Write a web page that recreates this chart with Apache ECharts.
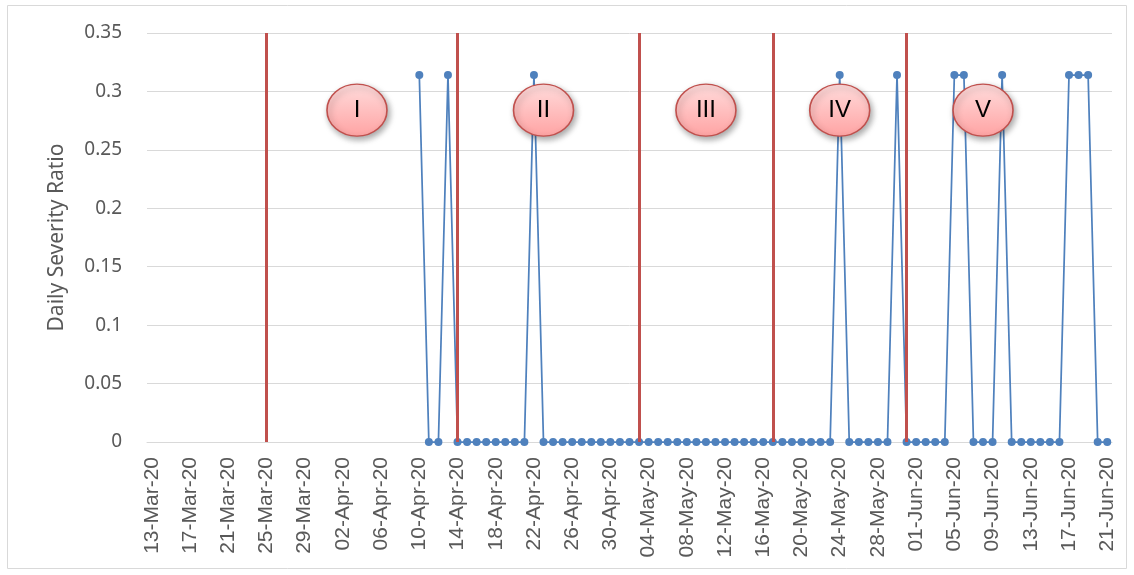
<!DOCTYPE html>
<html>
<head>
<meta charset="utf-8">
<script src="https://cdn.jsdelivr.net/npm/echarts@6/dist/echarts.min.js"></script>
<style>
  html, body { margin: 0; padding: 0; background: #fff; }
  #chart { width: 1134px; height: 575px; }
</style>
</head>
<body>
<div id="chart"></div>
<script>
// daily dates 13-Mar-20 .. 21-Jun-20
const months = ['Jan', 'Feb', 'Mar', 'Apr', 'May', 'Jun', 'Jul', 'Aug', 'Sep', 'Oct', 'Nov', 'Dec']
const dates = []
for (let d = new Date(2020, 2, 13); d <= new Date(2020, 5, 21); d.setDate(d.getDate() + 1)) {
  dates.push(String(d.getDate()).padStart(2, '0') + '-' + months[d.getMonth()] + '-20')
}

// Daily severity ratio, no data before 10-Apr-20
const severity = [
  null, null, null, null, null, null, null, null, null, null,
  null, null, null, null, null, null, null, null, null, null,
  null, null, null, null, null, null, null, null,
  0.314, 0, 0, 0.314, 0, 0, 0, 0, 0, 0, 0, 0,
  0.314, 0, 0, 0, 0, 0, 0, 0, 0, 0,
  0, 0, 0, 0, 0, 0, 0, 0, 0, 0,
  0, 0, 0, 0, 0, 0, 0, 0, 0, 0,
  0, 0, 0.314, 0, 0, 0, 0, 0, 0.314, 0,
  0, 0, 0, 0, 0.314, 0.314, 0, 0, 0, 0.314,
  0, 0, 0, 0, 0, 0, 0.314, 0.314, 0.314, 0, 0
]

// phase boundaries (red lines)
const phaseLines = ['25-Mar-20', '14-Apr-20', '03-May-20', '17-May-20', '31-May-20']

// phase labels
const phaseNames = ['I', 'II', 'III', 'IV', 'V']
const phaseAt = ['04-Apr-20', '23-Apr-20', '10-May-20', '24-May-20', '08-Jun-20']
const phaseY = [0.284, 0.284, 0.284, 0.284, 0.284]

const yTicks = { min: 0, max: 0.35, interval: 0.05 }

const txt = '#595959'
const sans = 'Noto Sans'
const arial = 'Liberation Sans'

const myChart = echarts.init(document.getElementById('chart'))
const option = {
  animation: false,
  textStyle: { fontFamily: sans },
  graphic: [{
    type: 'rect',
    shape: { x: 7.5, y: 5.5, width: 1119, height: 563 },
    style: { fill: 'none', stroke: '#d9d9d9', lineWidth: 1 },
    silent: true
  }],
  grid: { left: 147, right: 22, top: 33, bottom: 133 },
  xAxis: {
    type: 'category',
    data: dates,
    boundaryGap: true,
    axisLine: { lineStyle: { color: '#d9d9d9', width: 1 } },
    axisTick: { interval: 3, length: 6, lineStyle: { color: '#d9d9d9' } },
    axisLabel: {
      interval: 3,
      rotate: 90,
      color: txt,
      fontSize: 21,
      fontFamily: arial,
      margin: 15
    },
    splitLine: { show: false }
  },
  yAxis: {
    type: 'value',
    min: yTicks.min,
    max: yTicks.max,
    interval: yTicks.interval,
    name: 'Daily Severity Ratio',
    nameLocation: 'middle',
    nameGap: 79,
    nameTextStyle: { color: txt, fontSize: 21, fontFamily: sans },
    axisLine: { show: false },
    axisTick: { show: false },
    axisLabel: {
      color: txt,
      fontSize: 19,
      fontFamily: sans,
      margin: 25,
      formatter: v => String(+v.toFixed(2))
    },
    splitLine: { lineStyle: { color: '#d9d9d9', width: 1 } }
  },
  series: [{
    name: 'Daily Severity Ratio',
    type: 'line',
    data: severity,
    connectNulls: false,
    symbol: 'circle',
    symbolSize: 8,
    showSymbol: true,
    showAllSymbol: true,
    lineStyle: { color: '#4f81bd', width: 1.75 },
    itemStyle: { color: '#4f81bd' },
    markLine: {
      silent: true,
      symbol: 'none',
      label: { show: false },
      lineStyle: { color: '#c0504d', width: 3, type: 'solid' },
      data: phaseLines.map(d => ({ xAxis: d }))
    },
    markPoint: {
      silent: true,
      symbol: 'path://M0,50 A50,50 0 1,1 100,50 A50,50 0 1,1 0,50 Z',
      symbolSize: [60, 52],
      itemStyle: {
        color: new echarts.graphic.LinearGradient(0, 0, 0, 1, [
          { offset: 0, color: '#ffdcdc' },
          { offset: 1, color: '#ffa3a3' }
        ]),
        borderColor: '#c0504d',
        borderWidth: 1.5,
        shadowBlur: 6,
        shadowColor: 'rgba(0,0,0,0.35)',
        shadowOffsetX: 2,
        shadowOffsetY: 3
      },
      label: {
        show: true,
        color: '#000',
        fontSize: 24,
        fontFamily: 'Liberation Sans',
        fontWeight: 'normal',
        formatter: p => p.name
      },
      data: phaseNames.map((n, i) => ({
        name: n,
        coord: [phaseAt[i], phaseY[i]],
        symbolOffset: i === 0 ? [-5, 0] : [0, 0]
      }))
    }
  }]
}
myChart.setOption(option)
window.addEventListener('resize', () => myChart.resize())
</script>
</body>
</html>
